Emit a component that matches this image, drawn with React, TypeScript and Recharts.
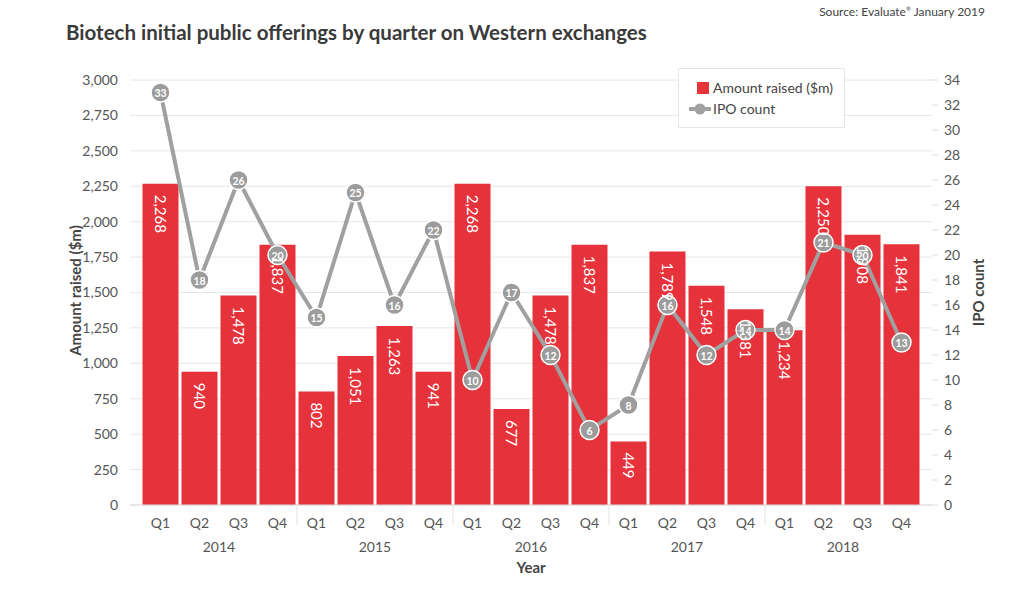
import React from 'react'
import {
  ComposedChart, Bar, Line, XAxis, YAxis, CartesianGrid, Legend, LabelList,
} from 'recharts'

const YEARS = ['2014', '2015', '2016', '2017', '2018']
const QUARTERS = ['Q1', 'Q2', 'Q3', 'Q4']

// amount raised ($m), quarter by quarter, 2014 Q1 .. 2018 Q4
const AMOUNT_RAISED = [
  2268, 940, 1478, 1837,
  802, 1051, 1263, 941,
  2268, 677, 1478, 1837,
  449, 1789, 1548, 1381,
  1234, 2250, 1908, 1841,
]

const IPO_COUNT = [
  33, 18, 26, 20,
  15, 25, 16, 22,
  10, 17, 12, 6,
  8, 16, 12, 14,
  14, 21, 20, 13,
]

const LEFT_TICKS = [0, 250, 500, 750, 1000, 1250, 1500, 1750, 2000, 2250, 2500, 2750, 3000]
const RIGHT_TICKS = [0, 2, 4, 6, 8, 10, 12, 14, 16, 18, 20, 22, 24, 26, 28, 30, 32, 34]

const data = YEARS.flatMap((year, y) =>
  QUARTERS.map((q, i) => ({
    year,
    q,
    amount: AMOUNT_RAISED[y * 4 + i],
    count: IPO_COUNT[y * 4 + i],
  }))
)

const RED = '#e5323b'
const GREY = '#a0a0a0'
const TEXT = '#555'
const FONT = 'Lato, "Open Sans", sans-serif'

function QuarterTick(props: any) {
  const { x, y, payload, index } = props
  const half = payload.offset ?? 19.5
  return (
    <g>
      {index % 4 === 0 && index > 0 && (
        <line x1={x - half} x2={x - half} y1={y} y2={y + 20} stroke="#e2e2e2" />
      )}
      <text x={x} y={y + 23} textAnchor="middle" fill={TEXT} fontSize={14}>
        {payload.value}
      </text>
    </g>
  )
}

function YearTick(props: any) {
  const { x, y, payload } = props
  return (
    <text x={x} y={y + 17} textAnchor="middle" fill={TEXT} fontSize={14}>
      {payload.value}
    </text>
  )
}

function BarValue(props: any) {
  const { x, y, width, value } = props
  const cx = x + width / 2
  const ty = y + 11
  return (
    <text
      x={cx}
      y={ty}
      transform={`rotate(90 ${cx} ${ty})`}
      textAnchor="start"
      dominantBaseline="central"
      fill="#fff"
      fontSize={15}
    >
      {Number(value).toLocaleString('en-US')}
    </text>
  )
}

function CountValue(props: any) {
  const { x, y, value } = props
  return (
    <text x={x} y={y + 0.5} textAnchor="middle" dominantBaseline="central" fill="#fff" fontSize={10.5} fontWeight={700}>
      {value}
    </text>
  )
}

function LegendBox() {
  return (
    <div
      style={{
        border: '1px solid #e6e6e6',
        background: '#fff',
        width: 167,
        height: 60,
        boxSizing: 'border-box',
        fontSize: 14,
        color: '#444',
        fontFamily: FONT,
        position: 'relative',
      }}
    >
      <div style={{ position: 'absolute', left: 18, top: 13, width: 12, height: 12, background: RED }} />
      <div style={{ position: 'absolute', left: 34, top: 10 }}>Amount raised ($m)</div>
      <svg style={{ position: 'absolute', left: 10, top: 34 }} width={22} height={12}>
        <line x1={0} x2={22} y1={6} y2={6} stroke={GREY} strokeWidth={4} />
        <circle cx={11} cy={6} r={5.5} fill={GREY} />
      </svg>
      <div style={{ position: 'absolute', left: 34, top: 31 }}>IPO count</div>
    </div>
  )
}

export default function App() {
  return (
    <div style={{ position: 'absolute', left: 0, top: 0, width: 1024, height: 597, background: '#fff', fontFamily: FONT }}>
      <div style={{ position: 'absolute', right: 39, top: 4, fontSize: 12, color: '#444' }}>
        Source: Evaluate<sup style={{ fontSize: 6 }}>®</sup> January 2019
      </div>
      <div style={{ position: 'absolute', left: 66, top: 20, fontSize: 20.5, fontWeight: 700, color: '#3a3a3a' }}>
        Biotech initial public offerings by quarter on Western exchanges
      </div>
      <ComposedChart
        width={1024}
        height={597}
        data={data}
        margin={{ top: 80, right: 32, bottom: 40, left: 60 }}
        barCategoryGap={1.5}
        style={{ fontFamily: FONT }}
      >
        <CartesianGrid yAxisId="left" vertical={false} stroke="#e6e6e6" />
        <XAxis
          dataKey="q"
          height={30}
          axisLine={{ stroke: '#dcdcdc' }}
          tickLine={false}
          tickSize={0}
          tickMargin={0}
          padding={{ left: 11, right: 11 }}
          interval={0}
          tick={<QuarterTick />}
        />
        <XAxis
          xAxisId="year"
          dataKey="year"
          allowDuplicatedCategory={false}
          height={22}
          axisLine={false}
          tickLine={false}
          tickSize={0}
          tickMargin={0}
          padding={{ left: 11, right: 11 }}
          interval={0}
          tick={<YearTick />}
          label={{
            content: (p: any) => {
              const vb = p.viewBox
              return (
                <text x={vb.x + vb.width / 2} y={vb.y + vb.height + 16} textAnchor="middle" fill="#444" fontSize={15} fontWeight={700}>
                  Year
                </text>
              )
            },
          }}
        />
        <YAxis
          yAxisId="left"
          domain={[0, 3000]}
          ticks={LEFT_TICKS}
          interval={0}
          width={70}
          axisLine={false}
          tickLine={false}
          tickMargin={6}
          tick={{ fill: TEXT, fontSize: 14 }}
          tickFormatter={(v: number) => v.toLocaleString('en-US')}
          label={{
            content: (p: any) => {
              const vb = p.viewBox
              const lx = vb.x + 15
              const ly = vb.y + vb.height / 2 - 2
              return (
                <text x={lx} y={ly} transform={`rotate(-90 ${lx} ${ly})`} textAnchor="middle" dominantBaseline="central" fill="#444" fontSize={15} fontWeight={700}>
                  Amount raised ($m)
                </text>
              )
            },
          }}
        />
        <YAxis
          yAxisId="right"
          orientation="right"
          domain={[0, 34]}
          ticks={RIGHT_TICKS}
          interval={0}
          width={60}
          axisLine={false}
          tickLine={{ stroke: '#dcdcdc' }}
          tickSize={6}
          tickMargin={6}
          tick={{ fill: TEXT, fontSize: 14 }}
          label={{
            content: (p: any) => {
              const vb = p.viewBox
              const lx = vb.x + 46
              const ly = vb.y + vb.height / 2
              return (
                <text x={lx} y={ly} transform={`rotate(-90 ${lx} ${ly})`} textAnchor="middle" dominantBaseline="central" fill="#444" fontSize={15} fontWeight={700}>
                  IPO count
                </text>
              )
            },
          }}
        />
        <Legend
          layout="vertical"
          align="center"
          verticalAlign="middle"
          wrapperStyle={{ left: 678, top: 68, width: 167 }}
          content={() => <LegendBox />}
        />
        <Bar yAxisId="left" dataKey="amount" name="Amount raised ($m)" fill={RED} isAnimationActive={false}>
          <LabelList dataKey="amount" content={<BarValue />} />
        </Bar>
        <Line
          yAxisId="right"
          dataKey="count"
          name="IPO count"
          stroke={GREY}
          strokeWidth={4}
          dot={{ r: 9.5, fill: '#9c9c9c', stroke: '#fff', strokeWidth: 1.5 }}
          activeDot={false}
          isAnimationActive={false}
        >
          <LabelList dataKey="count" content={<CountValue />} />
        </Line>
      </ComposedChart>
    </div>
  )
}
